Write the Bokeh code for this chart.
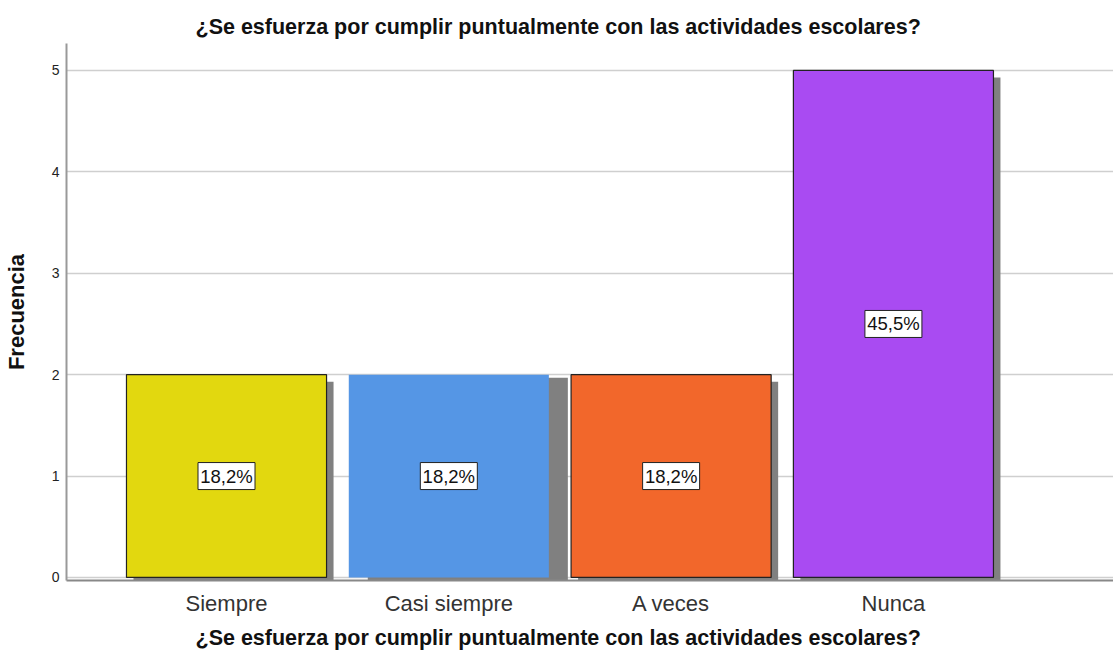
from bokeh.plotting import figure
from bokeh.models import ColumnDataSource, FixedTicker, Range1d, Title
from bokeh.core.properties import value
from bokeh.embed import file_html
from bokeh.resources import INLINE

# ---- data ----
categories = ["Siempre", "Casi siempre", "A veces", "Nunca"]
frequencies = [2, 2, 2, 5]
percent_labels = ["18,2%", "18,2%", "18,2%", "45,5%"]
bar_colors = ["#e2d80f", "#5596e5", "#f2672b", "#a94bf2"]
title_text = "¿Se esfuerza por cumplir puntualmente con las actividades escolares?"
y_label = "Frecuencia"

# ---- style ----
FONT = "Liberation Sans"
PX_X = 222.3   # px per category unit
PX_Y = 101.4   # px per frequency unit
shadow_dx_px = [7, 19, 7, 7]
shadow_dy_px = [7, 3, 7, 7]
outline_colors = ["#222222", None, "#222222", "#222222"]

xs = list(range(1, len(categories) + 1))
src = ColumnDataSource(dict(
    x=xs,
    top=frequencies,
    color=bar_colors,
    line=outline_colors,
    sx=[x + dx / PX_X for x, dx in zip(xs, shadow_dx_px)],
    stop=[v - dy / PX_Y for v, dy in zip(frequencies, shadow_dy_px)],
    sbottom=[-dy / PX_Y for dy in shadow_dy_px],
    ly=[v / 2 for v in frequencies],
    lbl=percent_labels,
))

p = figure(width=1113, height=657, output_backend="svg", toolbar_location=None,
           x_range=Range1d(0.2802, 4.990), y_range=Range1d(-0.03, 5.266),
           min_border_left=66, min_border_right=0, min_border_top=43, min_border_bottom=77)
p.outline_line_color = None
p.background_fill_color = "white"

# shadows
p.vbar(x="sx", top="stop", bottom="sbottom", width=0.9, source=src,
       fill_color="#808080", line_color=None)
# bars
p.vbar(x="x", top="top", bottom=0, width=0.9, source=src,
       fill_color="color", line_color="line", line_width=1.2)

# percentage labels in white boxes
p.rect(x="x", y="ly", width=57, height=27, width_units="screen", height_units="screen",
       source=src, fill_color="white", line_color="#222222", line_width=1)
p.text(x="x", y="ly", text="lbl", source=src, text_align="center", text_baseline="middle",
       text_font=value(FONT), text_font_size="18.5px", text_color="#111111")

# grid
p.xgrid.grid_line_color = None
p.ygrid.grid_line_color = "#cfcfcf"
p.ygrid.grid_line_width = 1.5
p.ygrid.ticker = FixedTicker(ticks=[0, 1, 2, 3, 4, 5])

# axes
p.yaxis.ticker = FixedTicker(ticks=[0, 1, 2, 3, 4, 5])
p.yaxis.axis_label = y_label
p.yaxis.axis_label_text_font = FONT
p.yaxis.axis_label_text_font_style = "bold"
p.yaxis.axis_label_text_font_size = "22px"
p.yaxis.axis_label_text_color = "#111111"
p.yaxis.axis_label_standoff = 20
p.yaxis.major_label_text_font = FONT
p.yaxis.major_label_text_font_size = "14px"
p.yaxis.major_label_text_color = "#222222"
p.yaxis.major_label_standoff = 7
p.yaxis.major_tick_out = 0
p.yaxis.major_tick_in = 0
p.yaxis.minor_tick_line_color = None
p.yaxis.axis_line_color = "#999999"
p.yaxis.axis_line_width = 2

p.xaxis.ticker = FixedTicker(ticks=xs)
p.xaxis.major_label_overrides = {x: c for x, c in zip(xs, categories)}
p.xaxis.major_label_text_font = FONT
p.xaxis.major_label_text_font_size = "22px"
p.xaxis.major_label_text_color = "#333333"
p.xaxis.major_label_standoff = 10
p.xaxis.major_tick_out = 0
p.xaxis.major_tick_in = 0
p.xaxis.minor_tick_line_color = None
p.xaxis.axis_line_color = "#888888"
p.xaxis.axis_line_width = 2

top_title = Title(text=title_text, align="left", offset=129,
                  text_font=FONT, text_font_size="21.5px", text_font_style="bold",
                  text_color="#111111")
p.add_layout(top_title, "above")

bottom_title = Title(text=title_text, align="left", offset=129,
                     text_font=FONT, text_font_size="21.5px", text_font_style="bold",
                     text_color="#111111")
p.add_layout(bottom_title, "below")

open("out.html", "w").write(file_html(p, INLINE))
